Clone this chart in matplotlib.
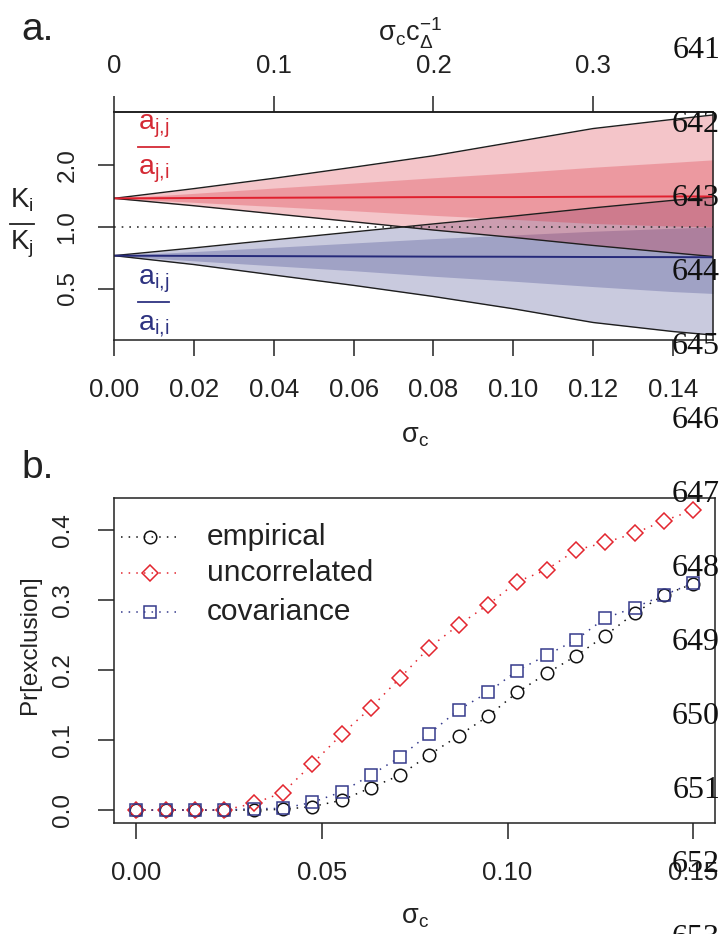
import matplotlib
matplotlib.use('Agg')
import matplotlib.pyplot as plt
from matplotlib.lines import Line2D

plt.rcParams['font.family'] = ['Liberation Sans', 'DejaVu Sans']
plt.rcParams['mathtext.fontset'] = 'custom'
plt.rcParams['mathtext.rm'] = 'Liberation Sans'
plt.rcParams['mathtext.it'] = 'Liberation Sans'
plt.rcParams['mathtext.default'] = 'regular'

# ---------------- Panel a data ----------------
sigma_a = [0, 0.02, 0.04, 0.06, 0.08, 0.10, 0.12, 0.14, 0.15]
red_median = [1.38, 1.385, 1.39, 1.395, 1.40, 1.40, 1.405, 1.41, 1.41]
red_outer_hi = [1.38, 1.54, 1.73, 1.96, 2.23, 2.60, 3.03, 3.36, 3.53]
red_outer_lo = [1.38, 1.27, 1.16, 1.06, 0.966, 0.889, 0.812, 0.747, 0.717]
red_mid_hi = [1.38, 1.46, 1.55, 1.64, 1.74, 1.84, 1.96, 2.07, 2.13]
red_mid_lo = [1.38, 1.32, 1.26, 1.20, 1.14, 1.09, 1.04, 1.01, 1.0]
blue_median = [0.724, 0.722, 0.72, 0.718, 0.716, 0.715, 0.713, 0.712, 0.711]
blue_outer_hi = [0.724, 0.79, 0.865, 0.946, 1.035, 1.13, 1.24, 1.35, 1.40]
blue_outer_lo = [0.724, 0.655, 0.582, 0.518, 0.457, 0.398, 0.341, 0.308, 0.296]
blue_mid_hi = [0.724, 0.758, 0.795, 0.835, 0.877, 0.914, 0.953, 0.986, 1.0]
blue_mid_lo = [0.724, 0.683, 0.646, 0.611, 0.574, 0.543, 0.511, 0.483, 0.473]
c_delta = 0.4

a_xticks = [0, 0.02, 0.04, 0.06, 0.08, 0.10, 0.12, 0.14]
a_xticklabels = ['0.00', '0.02', '0.04', '0.06', '0.08', '0.10', '0.12', '0.14']
a_topticks = [0, 0.1, 0.2, 0.3]
a_toplabels = ['0', '0.1', '0.2', '0.3']
a_yticks = [0.5, 1.0, 2.0]
a_yticklabels = ['0.5', '1.0', '2.0']

# ---------------- Panel b data ----------------
sigma_b = [0, 0.0079, 0.0158, 0.0237, 0.0316, 0.0395, 0.0474, 0.0553, 0.0632,
           0.0711, 0.0789, 0.0868, 0.0947, 0.1026, 0.1105, 0.1184, 0.1263,
           0.1342, 0.1421, 0.15]
empirical = [0, 0, 0, 0, 0, 0.001, 0.005, 0.014, 0.032, 0.050, 0.079, 0.106,
             0.134, 0.168, 0.195, 0.220, 0.249, 0.281, 0.307, 0.323]
uncorrelated = [0, 0, 0, 0, 0.0095, 0.025, 0.066, 0.108, 0.146, 0.189, 0.232,
                0.264, 0.293, 0.326, 0.343, 0.371, 0.382, 0.395, 0.413, 0.428]
covariance = [0, 0, 0, 0, 0.002, 0.0024, 0.011, 0.026, 0.050, 0.076, 0.109,
              0.143, 0.168, 0.199, 0.221, 0.243, 0.274, 0.289, 0.307, 0.324]
series_names = ['empirical', 'uncorrelated', 'covariance']
b_xticks = [0, 0.05, 0.10, 0.15]
b_xticklabels = ['0.00', '0.05', '0.10', '0.15']
b_yticks = [0, 0.1, 0.2, 0.3, 0.4]
b_yticklabels = ['0.0', '0.1', '0.2', '0.3', '0.4']

line_numbers = list(range(641, 654))

# ---------------- Figure ----------------
W, H = 722, 934
fig = plt.figure(figsize=(W / 100, H / 100), dpi=100)


def fx(x):
    return x / W


def fy(y):
    return 1 - y / H


RED = (215 / 255, 25 / 255, 40 / 255)
BLUE = (30 / 255, 35 / 255, 120 / 255)
RED_LINE = '#e0202e'
BLUE_LINE = '#262a7a'
EDGE = '#1e1e1e'
XTICK_FS = 18.5
YTICK_FS = 17.5
dotted = (0, (1, 3.6))

# ---- panel a ----
ax1 = fig.add_axes([fx(114), fy(340), (713 - 114) / W, (340 - 112) / H])
ax1.set_yscale('log')
ax1.set_xlim(0, 0.15)
ax1.set_ylim(0.28, 3.65)

ax1.fill_between(sigma_a, blue_outer_lo, blue_outer_hi, color=BLUE, alpha=0.24, lw=0)
ax1.fill_between(sigma_a, blue_mid_lo, blue_mid_hi, color=BLUE, alpha=0.24, lw=0)
ax1.fill_between(sigma_a, red_outer_lo, red_outer_hi, color=RED, alpha=0.25, lw=0)
ax1.fill_between(sigma_a, red_mid_lo, red_mid_hi, color=RED, alpha=0.25, lw=0)
ax1.axhline(1.0, color='#333333', ls=dotted, lw=1.2)
for arr in (red_outer_hi, red_outer_lo, blue_outer_hi, blue_outer_lo):
    ax1.plot(sigma_a, arr, color=EDGE, lw=1.0)
ax1.plot(sigma_a, red_median, color=RED_LINE, lw=1.4)
ax1.plot(sigma_a, blue_median, color=BLUE_LINE, lw=1.4)

ax1.set_xticks(a_xticks)
ax1.set_xticklabels(a_xticklabels)
ax1.set_yticks(a_yticks)
ax1.set_yticklabels(a_yticklabels)
ax1.yaxis.set_minor_locator(matplotlib.ticker.NullLocator())
ax1.tick_params(axis='both', direction='out', length=11.5, width=1.1,
                colors='#222222')
ax1.tick_params(axis='x', pad=16, labelsize=XTICK_FS)
ax1.tick_params(axis='y', pad=14, labelsize=YTICK_FS)
for lab in ax1.get_yticklabels():
    lab.set_rotation(90)
    lab.set_va('center')
for sp in ax1.spines.values():
    sp.set_linewidth(1.1)
    sp.set_color('#222222')

sec = ax1.secondary_xaxis('top', functions=(lambda s: s / c_delta, lambda t: t * c_delta))
sec.set_xticks(a_topticks)
sec.set_xticklabels(a_toplabels)
sec.tick_params(direction='out', length=11.5, width=1.1, labelsize=XTICK_FS,
                pad=13, colors='#222222')
sec.spines['top'].set_linewidth(1.1)

# ---- panel b ----
ax2 = fig.add_axes([fx(114), fy(822.7), (715.5 - 114) / W, (822.7 - 498.3) / H])
ax2.set_xlim(-0.006, 0.156)
ax2.set_ylim(-0.018, 0.445)

b_styles = [
    (empirical, '#111111', 'o', 9.0),
    (uncorrelated, '#e3262f', 'D', 8.0),
    (covariance, '#353a8c', 's', 8.0),
]
for vals, col, mk, ms in b_styles:
    ax2.plot(sigma_b, vals, ls=(0, (1, 4)), color=col, lw=1.1, zorder=2)
for vals, col, mk, ms in b_styles:
    ax2.plot(sigma_b, vals, ls='none', marker=mk, ms=ms, mfc='white',
             mec='none', zorder=3)
for vals, col, mk, ms in b_styles:
    ax2.plot(sigma_b, vals, ls='none', marker=mk, ms=ms, mfc='none',
             mec=col, mew=1.1, zorder=4)

ax2.set_xticks(b_xticks)
ax2.set_xticklabels(b_xticklabels)
ax2.set_yticks(b_yticks)
ax2.set_yticklabels(b_yticklabels)
ax2.tick_params(axis='both', direction='out', length=11.5, width=1.1,
                colors='#222222')
ax2.tick_params(axis='x', pad=16, labelsize=XTICK_FS)
ax2.tick_params(axis='y', pad=17, labelsize=YTICK_FS)
for lab in ax2.get_yticklabels():
    lab.set_rotation(90)
    lab.set_va('center')
for sp in ax2.spines.values():
    sp.set_linewidth(1.1)
    sp.set_color('#222222')

# manual legend
leg_rows = [536.7, 573.3, 611.7]
for (vals, col, mk, ms), name, yy in zip(b_styles, series_names, leg_rows):
    fig.add_artist(Line2D([fx(121), fx(177)], [fy(yy), fy(yy)], transform=fig.transFigure,
                          ls=(0, (1, 4)), color=col, lw=1.1))
    fig.add_artist(Line2D([fx(150)], [fy(yy)], transform=fig.transFigure, ls='none',
                          marker=mk, ms=ms, mfc='none', mec=col, mew=1.1))
    fig.text(fx(207), fy(yy), name, ha='left', va='center', fontsize=21.5,
             color='#222222')

# ---- texts ----
fig.text(fx(21), fy(40), 'a.', fontsize=28, ha='left', va='baseline', color='#222222')
fig.text(fx(21), fy(478), 'b.', fontsize=28, ha='left', va='baseline', color='#222222')
fig.text(fx(410), fy(33), r'$\mathregular{σ_c c_{Δ}^{-1}}$', fontsize=19.5,
         ha='center', va='center', color='#222222')
fig.text(fx(415), fy(436), r'$\mathregular{σ_c}$', fontsize=19.5, ha='center',
         va='center', color='#222222')
fig.text(fx(415), fy(917), r'$\mathregular{σ_c}$', fontsize=19.5, ha='center',
         va='center', color='#222222')
fig.text(fx(30), fy(645), 'Pr[exclusion]', fontsize=17.5, rotation=90,
         ha='center', va='center', color='#222222')

# K_i / K_j fraction
fig.text(fx(10), fy(208), r'$\mathregular{K_i}$', fontsize=20, ha='left',
         va='baseline', color='#222222')
fig.text(fx(10), fy(250), r'$\mathregular{K_j}$', fontsize=20, ha='left',
         va='baseline', color='#222222')
fig.add_artist(Line2D([fx(10), fx(34)], [fy(224), fy(224)], transform=fig.transFigure,
                      color='#222222', lw=1.3))

# a fractions
for top, bot, bar_y, col in [(r'$\mathregular{a_{j{,}j}}$', r'$\mathregular{a_{j{,}i}}$', 146.7, '#d42a35'),
                             (r'$\mathregular{a_{i{,}j}}$', r'$\mathregular{a_{i{,}i}}$', 301.7, '#2e3381')]:
    fig.text(fx(138), fy(bar_y - 17), top, fontsize=20.5, ha='left', va='baseline', color=col)
    fig.text(fx(138), fy(bar_y + 28), bot, fontsize=20.5, ha='left', va='baseline', color=col)
    fig.add_artist(Line2D([fx(138), fx(169)], [fy(bar_y), fy(bar_y)],
                          transform=fig.transFigure, color=col, lw=1.3))

# manuscript line numbers
for i, n in enumerate(line_numbers):
    fig.text(fx(720), fy(48 + i * 74 + 10), str(n), ha='right', va='baseline',
             fontsize=23, family='Liberation Serif', color='#111111', zorder=10)

fig.savefig('out.png', dpi=100)
